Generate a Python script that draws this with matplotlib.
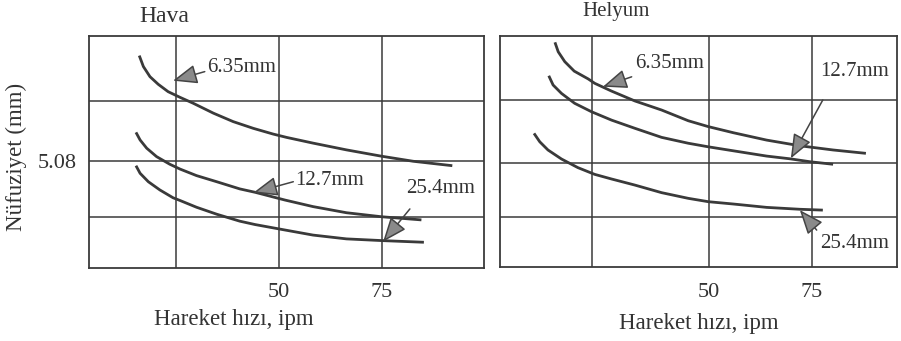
import matplotlib
matplotlib.use('Agg')
import matplotlib.pyplot as plt

plt.rcParams['font.family'] = ['Liberation Serif', 'DejaVu Serif']

# Hava (air) - hiz (ipm) / nufuziyet (mm)
hava_x_635 = [16.1, 17.1, 18.7, 20.7, 23.1, 26.0, 29.2, 34.1, 38.9, 43.8, 48.6, 51.9, 58.3, 66.4, 74.9, 82.6, 92.1]
hava_y_635 = [10.07, 9.55, 9.07, 8.71, 8.36, 8.09, 7.81, 7.34, 6.94, 6.62, 6.35, 6.19, 5.92, 5.60, 5.30, 5.06, 4.85]
hava_x_127 = [15.3, 16.3, 17.9, 20.3, 23.5, 26.0, 30.0, 34.9, 40.5, 44.2, 51.5, 58.3, 66.4, 74.9, 84.6]
hava_y_127 = [6.43, 6.07, 5.68, 5.28, 4.92, 4.69, 4.38, 4.09, 3.75, 3.59, 3.22, 2.91, 2.62, 2.43, 2.28]
hava_x_254 = [15.3, 16.3, 18.3, 21.1, 24.3, 26.0, 30.0, 34.9, 40.5, 44.2, 51.5, 58.3, 66.4, 74.9, 85.2]
hava_y_254 = [4.85, 4.49, 4.09, 3.70, 3.33, 3.20, 2.88, 2.55, 2.22, 2.06, 1.80, 1.56, 1.38, 1.30, 1.22]

# Helyum
hel_x_635 = [12.4, 13.2, 14.8, 17.1, 20.5, 22.1, 26.2, 31.9, 38.4, 44.9, 49.8, 55.9, 64.0, 72.1, 80.2, 88.2]
hel_y_635 = [10.70, 10.25, 9.78, 9.33, 8.96, 8.75, 8.38, 7.91, 7.48, 6.97, 6.69, 6.40, 6.05, 5.78, 5.58, 5.42]
hel_x_127 = [10.9, 11.95, 14.0, 17.2, 21.3, 26.2, 31.9, 38.4, 44.9, 49.8, 55.9, 64.0, 69.7, 74.6, 80.2]
hel_y_127 = [9.11, 8.67, 8.27, 7.80, 7.40, 7.00, 6.61, 6.18, 5.90, 5.73, 5.54, 5.29, 5.16, 5.02, 4.90]
hel_x_254 = [7.3, 8.7, 10.7, 14.0, 18.0, 22.1, 26.2, 31.9, 38.4, 44.9, 49.8, 55.9, 64.0, 72.1, 77.7]
hel_y_254 = [6.37, 5.97, 5.58, 5.15, 4.74, 4.42, 4.20, 3.91, 3.55, 3.28, 3.12, 3.01, 2.85, 2.76, 2.72]

x_ticks = [50, 75]
x_tick_labels = ['50', '75']
y_ticks = [5.08]
y_tick_labels = ['5.08']
curve_labels = ['6.35mm', '12.7mm', '25.4mm']

LINE = '#3a3a3a'
TXT = '#333333'


def draw_grid(ax, vx, hy):
    for v in vx:
        ax.axvline(v, color=LINE, lw=1.1, zorder=1)
    for h in hy:
        ax.axhline(h, color=LINE, lw=1.1, zorder=1)
    for s in ax.spines.values():
        s.set_color(LINE)
        s.set_linewidth(1.3)


def arrow(ax, tip, tail):
    ax.annotate('', xy=tip, xytext=tail,
                arrowprops=dict(arrowstyle='-|>,head_length=0.75,head_width=0.3',
                                mutation_scale=20, fc='#8a8a8a', ec='#444444',
                                lw=1.1, shrinkA=0, shrinkB=0), zorder=4)


fig = plt.figure(figsize=(9.01, 3.41), dpi=100)
ax1 = fig.add_axes([0.0988, 0.2141, 0.4384, 0.6804])
ax2 = fig.add_axes([0.5549, 0.2161, 0.4403, 0.6783])

# --- Hava ---
ax1.set_xlim(3.9, 99.8)
ax1.set_ylim(0, 11)
draw_grid(ax1, [25, 50, 75], [2.43, 5.08, 7.93])
for xs, ys in [(hava_x_635, hava_y_635), (hava_x_127, hava_y_127), (hava_x_254, hava_y_254)]:
    ax1.plot(xs, ys, color=LINE, lw=2.0, solid_capstyle='butt', solid_joinstyle='round', zorder=3)
arrow(ax1, (24.3, 8.88), (32.0, 9.31))
arrow(ax1, (43.8, 3.57), (53.5, 4.09))
arrow(ax1, (75.3, 1.25), (81.8, 2.80))
ax1.text(32.5, 9.50, curve_labels[0], fontsize=15, color=TXT, va='center', ha='left')
ax1.text(53.9, 4.17, curve_labels[1], fontsize=15, color=TXT, va='center', ha='left')
ax1.text(81.0, 3.78, curve_labels[2], fontsize=15, color=TXT, va='center', ha='left')
ax1.set_yticks(y_ticks)
ax1.set_yticklabels(y_tick_labels, fontsize=16, color=TXT)
ax1.set_ylabel('Nüfuziyet (mm)', fontsize=16.5, color=TXT, va='center')
ax1.yaxis.set_label_coords(-0.185, 0.478)
ax1.set_xlabel('Hareket hızı, ipm', fontsize=16.5, color=TXT, va='center')
ax1.xaxis.set_label_coords(0.367, -0.224)
ax1.text(0.127, 1.085, 'Hava', transform=ax1.transAxes, fontsize=17, color=TXT,
         va='center', ha='left')

# --- Helyum ---
ax2.set_xlim(-1.0, 95.7)
ax2.set_ylim(0, 11)
draw_grid(ax2, [21.5, 50, 75], [2.38, 4.97, 7.96])
for xs, ys in [(hel_x_635, hel_y_635), (hel_x_127, hel_y_127), (hel_x_254, hel_y_254)]:
    ax2.plot(xs, ys, color=LINE, lw=2.0, solid_capstyle='butt', solid_joinstyle='round', zorder=3)
arrow(ax2, (24.1, 8.59), (31.1, 9.06))
arrow(ax2, (69.9, 5.18), (77.7, 7.96))
arrow(ax2, (72.1, 2.72), (76.2, 1.77))
ax2.text(31.9, 9.70, curve_labels[0], fontsize=15, color=TXT, va='center', ha='left')
ax2.text(77.0, 9.30, curve_labels[1], fontsize=15, color=TXT, va='center', ha='left')
ax2.text(77.0, 1.14, curve_labels[2], fontsize=15, color=TXT, va='center', ha='left')
ax2.set_yticks([])
ax2.set_xlabel('Hareket hızı, ipm', fontsize=16.5, color=TXT, va='center')
ax2.xaxis.set_label_coords(0.5, -0.241)
ax2.text(0.207, 1.104, 'Helyum', transform=ax2.transAxes, fontsize=15, color=TXT,
         va='center', ha='left')

for ax in (ax1, ax2):
    ax.set_xticks(x_ticks)
    ax.set_xticklabels(x_tick_labels, fontsize=16, color=TXT)
    ax.tick_params(length=0)
    ax.tick_params(axis='x', pad=11)
    ax.tick_params(axis='y', pad=9)

fig.savefig('out.png', dpi=100, facecolor='white')
